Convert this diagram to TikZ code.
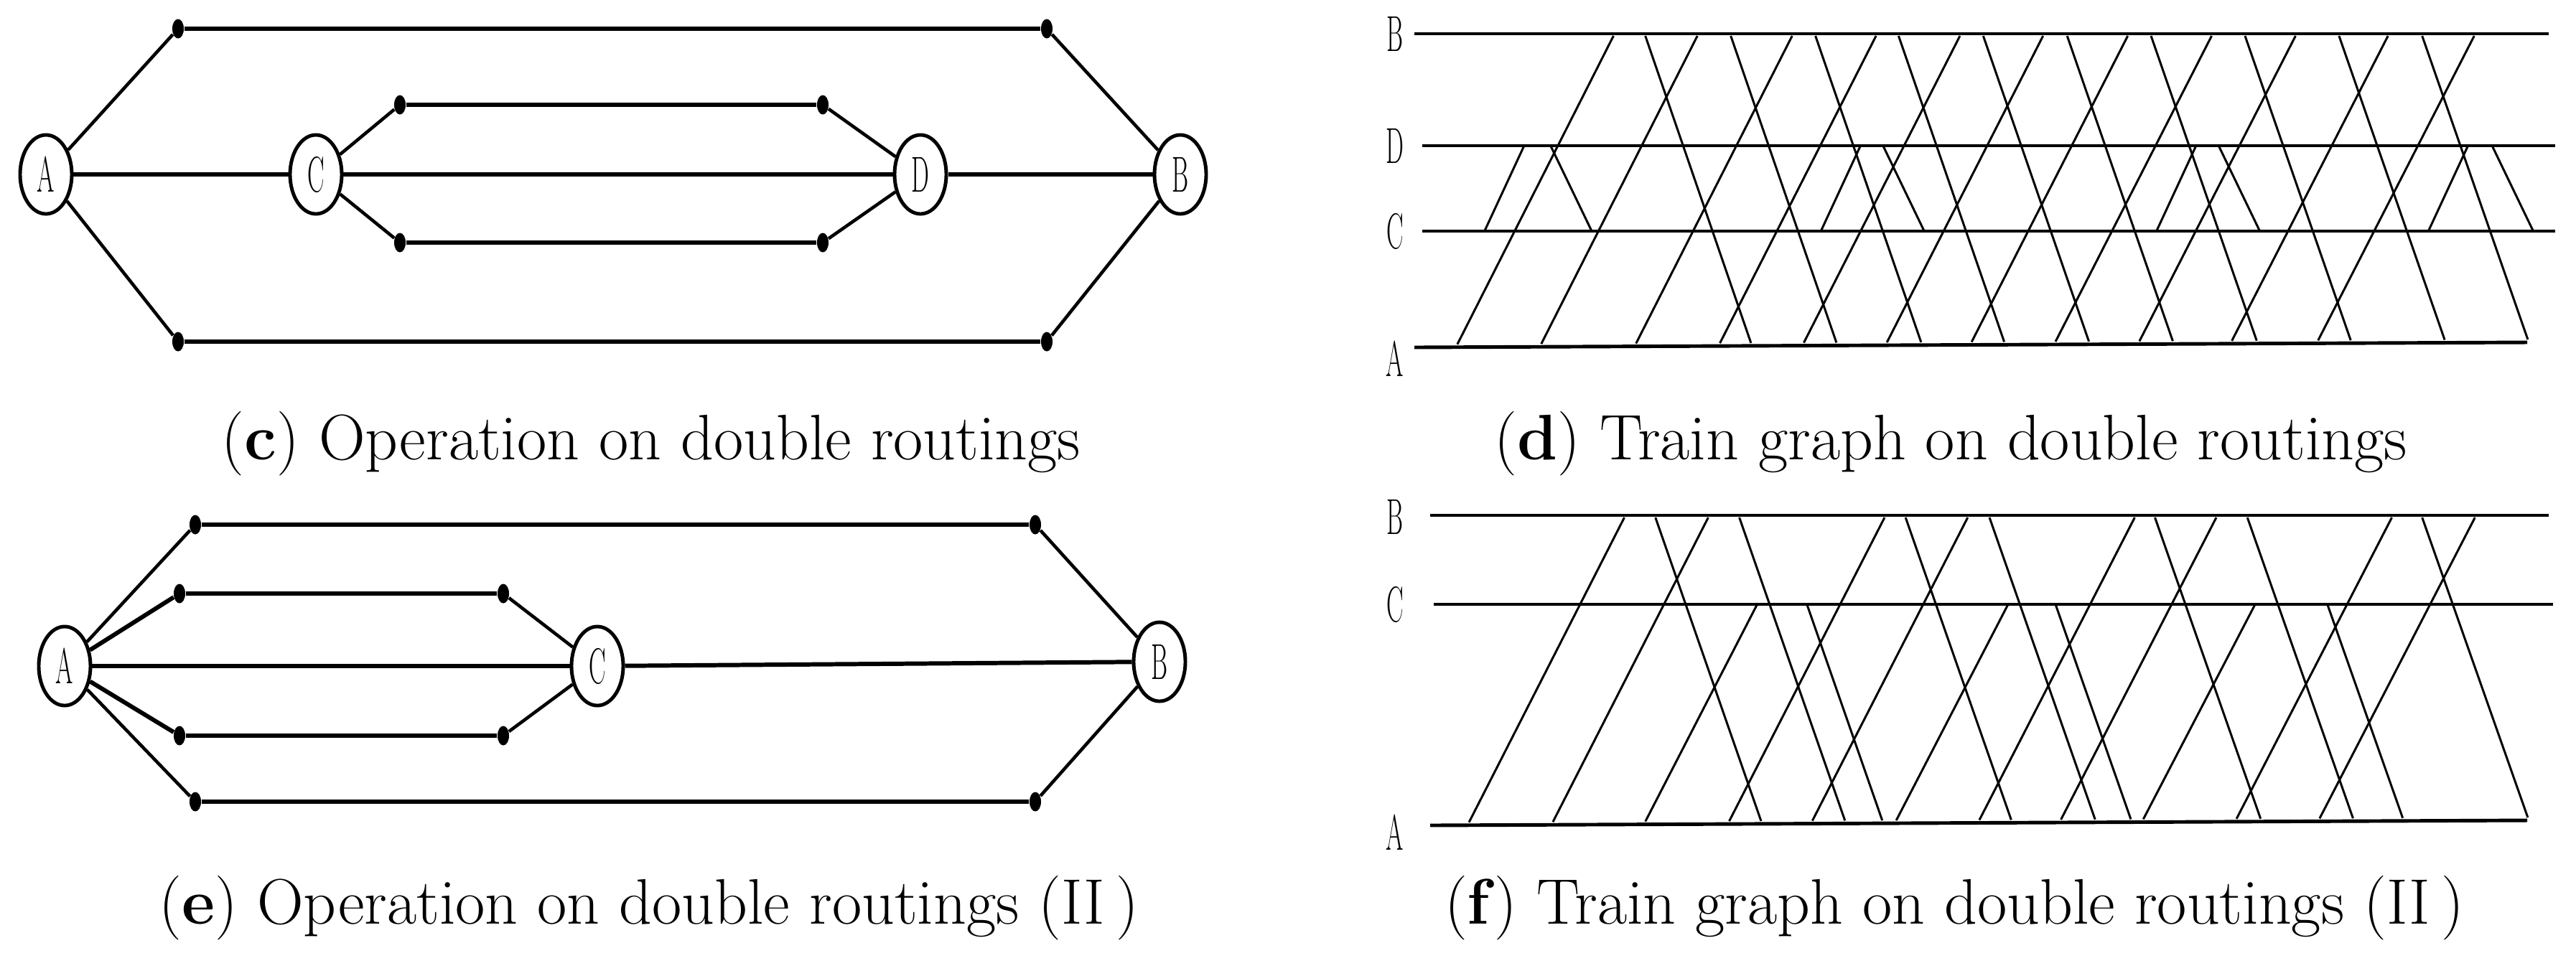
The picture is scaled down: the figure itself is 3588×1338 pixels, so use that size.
\documentclass[tikz,border=0pt]{standalone}
\usetikzlibrary{shapes.geometric}
\begin{document}
\begin{tikzpicture}[x=0.01cm,y=-0.01cm,
  stn/.style={ellipse,draw,line width=1.4pt,fill=white,minimum width=0.72cm,minimum height=1.1cm,inner sep=0pt,font=\fontsize{20}{20}\selectfont},
  dot/.style={ellipse,fill=black,minimum width=0.16cm,minimum height=0.27cm,inner sep=0pt},
  thick line/.style={line width=1.7pt},
  thin line/.style={line width=1.3pt},
  lbl/.style={inner sep=0pt,font=\fontsize{20}{20}\selectfont},
  track/.style={line width=1.4pt},
  train/.style={line width=0.85pt},
  captxt/.style={anchor=base,inner sep=0pt,font=\fontsize{25.5}{30}\selectfont}]
\useasboundingbox (0,0) rectangle (3588,1338);
\newcommand{\nl}[1]{\scalebox{0.5}[1]{#1}}
% ---------- (c) ----------
\node[stn] (cA) at (64,243) {\nl{A}};
\node[stn] (cC) at (440,243) {\nl{C}};
\node[stn] (cD) at (1282,243) {\nl{D}};
\node[stn] (cB) at (1644,243) {\nl{B}};
\node[dot] (c1) at (248,40) {};
\node[dot] (c2) at (1458,40) {};
\node[dot] (c3) at (248,476) {};
\node[dot] (c4) at (1458,476) {};
\node[dot] (c5) at (557,146) {};
\node[dot] (c6) at (1146,146) {};
\node[dot] (c7) at (557,338) {};
\node[dot] (c8) at (1146,338) {};
\draw[thin line] (cA) -- (c1); \draw[thick line] (c1) -- (c2); \draw[thin line] (c2) -- (cB);
\draw[thin line] (cA) -- (c3); \draw[thick line] (c3) -- (c4); \draw[thin line] (c4) -- (cB);
\draw[thin line] (cC) -- (c5); \draw[thick line] (c5) -- (c6); \draw[thin line] (c6) -- (cD);
\draw[thin line] (cC) -- (c7); \draw[thick line] (c7) -- (c8); \draw[thin line] (c8) -- (cD);
\draw[thick line] (cA) -- (cC); \draw[thick line] (cC) -- (cD); \draw[thick line] (cD) -- (cB);
% ---------- (e) ----------
\node[stn] (eA) at (90,928) {\nl{A}};
\node[stn] (eC) at (832,928) {\nl{C}};
\node[stn] (eB) at (1615,922) {\nl{B}};
\node[dot] (e1) at (272,731) {};
\node[dot] (e2) at (1442,731) {};
\node[dot] (e3) at (272,1117) {};
\node[dot] (e4) at (1442,1117) {};
\node[dot] (e5) at (250,827) {};
\node[dot] (e6) at (701,827) {};
\node[dot] (e7) at (250,1025) {};
\node[dot] (e8) at (701,1025) {};
\draw[thin line] (eA) -- (e1); \draw[thick line] (e1) -- (e2); \draw[thin line] (e2) -- (eB);
\draw[thin line] (eA) -- (e3); \draw[thick line] (e3) -- (e4); \draw[thin line] (e4) -- (eB);
\draw[thick line] (eA) -- (e5); \draw[thick line] (e5) -- (e6); \draw[thin line] (e6) -- (eC);
\draw[thick line] (eA) -- (e7); \draw[thick line] (e7) -- (e8); \draw[thin line] (e8) -- (eC);
\draw[thick line] (eA) -- (eC); \draw[thick line] (eC) -- (eB);
% ---------- (d) ----------
\node[lbl] (dlB) at (1943,47) {\nl{B}};
\node[lbl] (dlD) at (1943,203) {\nl{D}};
\node[lbl] (dlC) at (1943,322) {\nl{C}};
\node[lbl] (dlA) at (1943,500) {\nl{A}};
\draw[track] (1970,47) -- (3550,47);
\draw[track] (1981,203) -- (3559,203);
\draw[track] (1981,322) -- (3559,322);
\draw[track] (1970,484) -- (3520,477);
\foreach \a in {120,228,350,458,566,673,782,890,998,1117,1228}
  \draw[train] ({1900+1.082*\a},{480-7*(1.082*\a-70)/1550}) -- ({1900+1.082*(\a+201)},50);
\foreach \b in {362,472,581,688,797,905,1013,1134,1255,1362}
  \draw[train] ({1900+1.082*\b},50) -- ({1900+1.082*(\b+136)},{480-7*(1.082*(\b+136)-70)/1550});
\foreach \a in {155,588,1020,1370}
  \draw[train] ({1900+1.082*\a},322) -- ({1900+1.082*(\a+51)},203);
\foreach \b in {240,668,1100,1452}
  \draw[train] ({1900+1.082*\b},203) -- ({1900+1.082*(\b+53)},322);
% ---------- (f) ----------
\node[lbl] (flB) at (1943,720) {\nl{B}};
\node[lbl] (flC) at (1943,842) {\nl{C}};
\node[lbl] (flA) at (1943,1160) {\nl{A}};
\draw[track] (1992,718) -- (3550,718);
\draw[track] (1997,842) -- (3556,842);
\draw[track] (1992,1150) -- (3520,1143);
\foreach \a in {135,243,470,577,792,897,1123,1230}
  \draw[train] ({1900+1.082*\a},{1146-7*(1.082*\a-92)/1528}) -- ({1900+1.082*(\a+200)},721);
\foreach \a in {362,685,1003}
  \draw[train] ({1900+1.082*\a},{1146-7*(1.082*\a-92)/1528}) -- ({1900+1.082*(\a+144)},842);
\foreach \b in {375,483,697,805,1018,1137,1362}
  \draw[train] ({1900+1.082*\b},721) -- ({1900+1.082*(\b+136)},{1146-7*(1.082*(\b+136)-92)/1528});
\foreach \b in {570,890,1240}
  \draw[train] ({1900+1.082*\b},842) -- ({1900+1.082*(\b+97)},{1146-7*(1.082*(\b+97)-92)/1528});
% ---------- captions ----------
\node[captxt] (capc) at (907,640) {(\textbf{c}) Operation on double routings};
\node[captxt] (capd) at (2717,640) {(\textbf{d}) Train graph on double routings};
\node[captxt] (cape) at (904,1287) {(\textbf{e}) Operation on double routings (II\,)};
\node[captxt] (capf) at (2722,1287) {(\textbf{f}) Train graph on double routings (II\,)};
\end{tikzpicture}
\end{document}
